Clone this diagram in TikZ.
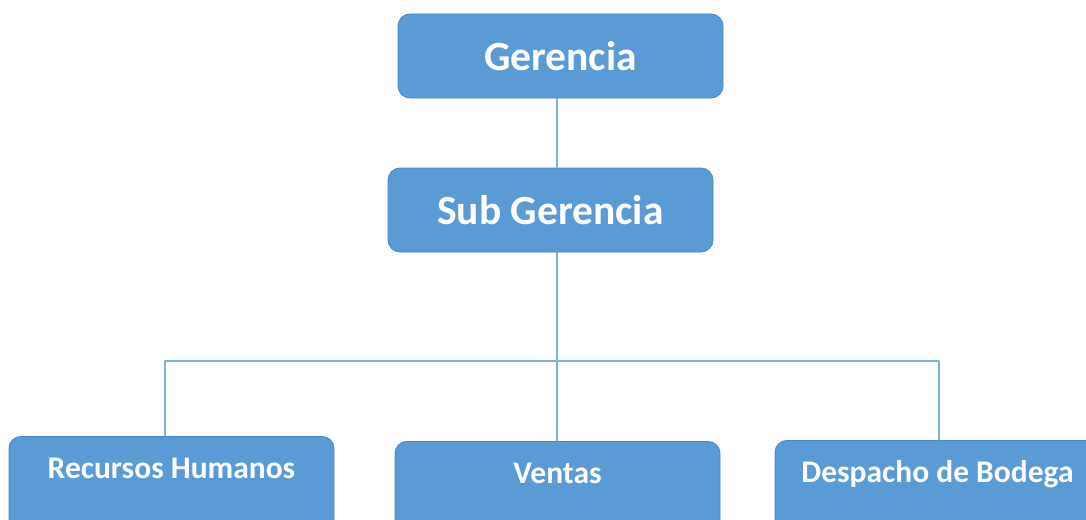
\documentclass[tikz,border=0pt]{standalone}
\usepackage{fontspec}
\setmainfont{Carlito}
\definecolor{boxblue}{HTML}{5B9BD5}
\definecolor{boxedge}{HTML}{4A86C0}
\definecolor{linkblue}{HTML}{7DB0E0}

\begin{document}
\begin{tikzpicture}[line cap=round,line join=round,x=1pt,y=-1pt,
  unidad/.style={draw=boxedge,fill=boxblue,rounded corners=12pt,line width=0.8pt,
    minimum width=325pt,text=white,font=\bfseries\fontsize{41.5}{44}\selectfont},
  topbox/.style={unidad,minimum height=84pt},
  area/.style={unidad,anchor=north,inner ysep=0pt,text height=42pt,text depth=60pt,
    font=\bfseries\fontsize{31.5}{34}\selectfont},
  enlace/.style={draw=linkblue,line width=1.3pt}]
\useasboundingbox (0,0) rectangle (1086,519);
\clip (0,0) rectangle (1086,519);
\fill[white] (0,0) rectangle (1086,519);
\node[topbox] (ger) at (560.5,56) {Gerencia};
\node[topbox] (sub) at (550.5,210) {Sub Gerencia};
\node[area] (rh) at (171.5,436) {Recursos Humanos};
\node[area] (ven) at (557.5,441) {Ventas};
\node[area] (bod) at (937.5,440) {Despacho de Bodega};
% ramas
\coordinate (eje) at (557,361);
\coordinate (izq) at (165,361);
\coordinate (der) at (939,361);
\draw[enlace] (ger.south -| eje) -- (sub.north -| eje);
\draw[enlace] (sub.south -| eje) -- (eje) -- (ven.north -| eje);
\draw[enlace] (rh.north -| izq) -- (izq) -- (der) -- (bod.north -| der);
\end{tikzpicture}
\end{document}
